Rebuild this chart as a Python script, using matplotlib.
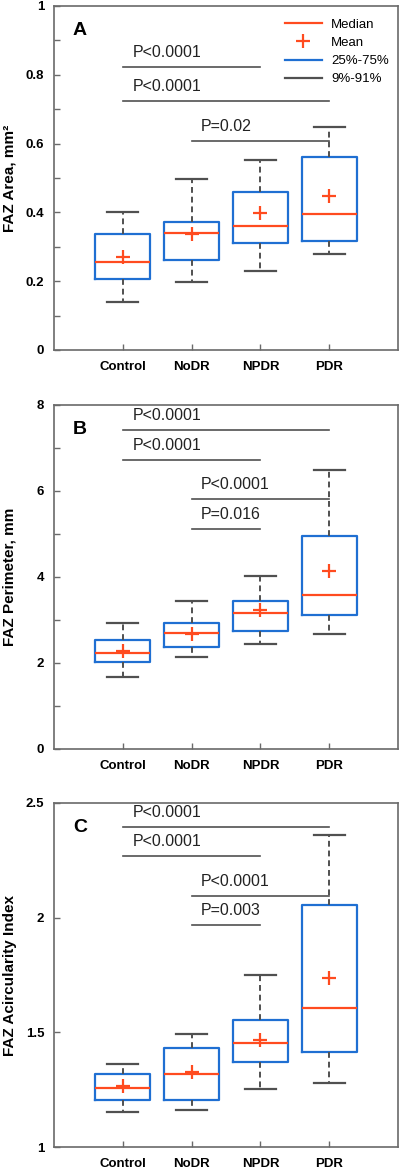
import matplotlib
matplotlib.use('Agg')
import matplotlib.pyplot as plt
from matplotlib.lines import Line2D
from matplotlib.ticker import MultipleLocator

groups = ['Control', 'NoDR', 'NPDR', 'PDR']

# FAZ area, mm2 : whisker low (9%), q1, median, q3, whisker high (91%), mean
area_lo = [0.139, 0.197, 0.230, 0.278]
area_q1 = [0.205, 0.262, 0.310, 0.318]
area_med = [0.255, 0.340, 0.360, 0.395]
area_q3 = [0.336, 0.373, 0.459, 0.562]
area_hi = [0.401, 0.497, 0.552, 0.649]
area_mean = [0.270, 0.336, 0.399, 0.448]

# FAZ perimeter, mm
per_lo = [1.67, 2.14, 2.43, 2.67]
per_q1 = [2.02, 2.36, 2.74, 3.11]
per_med = [2.23, 2.70, 3.17, 3.59]
per_q3 = [2.54, 2.93, 3.43, 4.96]
per_hi = [2.93, 3.43, 4.03, 6.48]
per_mean = [2.28, 2.68, 3.23, 4.15]

# FAZ acircularity index
aci_lo = [1.153, 1.161, 1.253, 1.279]
aci_q1 = [1.203, 1.203, 1.371, 1.414]
aci_med = [1.259, 1.317, 1.455, 1.608]
aci_q3 = [1.320, 1.430, 1.552, 2.055]
aci_hi = [1.363, 1.494, 1.749, 2.362]
aci_mean = [1.265, 1.328, 1.468, 1.735]

# significance bars: (group from, group to, level, label)
area_sig = [(1, 3, 0.824, 'P<0.0001'), (1, 4, 0.725, 'P<0.0001'), (2, 4, 0.607, 'P=0.02')]
per_sig = [(1, 4, 7.41, 'P<0.0001'), (1, 3, 6.71, 'P<0.0001'),
           (2, 4, 5.82, 'P<0.0001'), (2, 3, 5.12, 'P=0.016')]
aci_sig = [(1, 4, 2.395, 'P<0.0001'), (1, 3, 2.267, 'P<0.0001'),
           (2, 4, 2.096, 'P<0.0001'), (2, 3, 1.967, 'P=0.003')]

RED = '#ff4b1f'
BLUE = '#1f6fd2'
GRAY = '#505050'
SPINE = '#6a6a6a'

plt.rcParams['font.family'] = ['Liberation Sans', 'DejaVu Sans']


def make_stats(lo, q1, med, q3, hi, mean):
    stats = []
    for i in range(len(groups)):
        stats.append({'whislo': lo[i], 'q1': q1[i], 'med': med[i], 'q3': q3[i],
                      'whishi': hi[i], 'mean': mean[i], 'fliers': [], 'label': groups[i]})
    return stats


def draw_panel(ax, stats, sig, ylim, major, minor, ylabel, letter):
    ax.bxp(stats, positions=[1, 2, 3, 4], widths=0.8, showmeans=True,
           boxprops=dict(color=BLUE, linewidth=1.6),
           medianprops=dict(color=RED, linewidth=1.6),
           whiskerprops=dict(color=GRAY, linewidth=1.4, linestyle=(0, (3, 2))),
           capprops=dict(color=GRAY, linewidth=1.6),
           meanprops=dict(marker='+', markeredgecolor=RED, markersize=10, markeredgewidth=1.6),
           capwidths=0.45)
    ax.set_xlim(0, 5)
    ax.set_ylim(*ylim)
    ax.yaxis.set_major_locator(MultipleLocator(major))
    if minor:
        ax.yaxis.set_minor_locator(MultipleLocator(minor))
    ax.set_yticklabels(['%g' % round(v, 3) for v in ax.get_yticks()])
    ax.set_ylim(*ylim)
    ax.tick_params(axis='both', which='both', direction='in', colors=SPINE,
                   labelcolor='black', length=4, width=1)
    ax.tick_params(axis='y', pad=7, labelsize=9.5)
    ax.tick_params(axis='x', pad=8, labelsize=9.5)
    for lab in ax.get_xticklabels() + ax.get_yticklabels():
        lab.set_fontweight('bold')
    for sp in ax.spines.values():
        sp.set_color(SPINE)
        sp.set_linewidth(1.2)
    ax.set_ylabel(ylabel, fontsize=11, fontweight='bold', va='center')
    ax.yaxis.set_label_coords(-0.128, 0.5)
    ax.text(0.055, 0.93, letter, transform=ax.transAxes, fontsize=14,
            fontweight='bold', va='center', ha='left')
    rng = ylim[1] - ylim[0]
    for a, b, y, txt in sig:
        ax.plot([a, b], [y, y], color=GRAY, linewidth=1.2)
        ax.text(a + 0.14, y + 0.042 * rng, txt, fontsize=11.5, ha='left', va='center',
                color='#222222')


fig = plt.figure(figsize=(4.0, 11.69), dpi=100)
left, width, height = 0.135, 0.86, 0.2943
axA = fig.add_axes([left, 0.7006, width, height])
axB = fig.add_axes([left, 0.3593, width, height])
axC = fig.add_axes([left, 0.0188, width, height])

draw_panel(axA, make_stats(area_lo, area_q1, area_med, area_q3, area_hi, area_mean),
           area_sig, (0, 1), 0.2, 0.1, 'FAZ Area, mm²', 'A')
draw_panel(axB, make_stats(per_lo, per_q1, per_med, per_q3, per_hi, per_mean),
           per_sig, (0, 8), 2, 1, 'FAZ Perimeter, mm', 'B')
draw_panel(axC, make_stats(aci_lo, aci_q1, aci_med, aci_q3, aci_hi, aci_mean),
           aci_sig, (1, 2.5), 0.5, None, 'FAZ Acircularity Index', 'C')

handles = [Line2D([], [], color=RED, linewidth=1.6),
           Line2D([], [], color=RED, linestyle='none', marker='+', markersize=10, markeredgewidth=1.6),
           Line2D([], [], color=BLUE, linewidth=1.6),
           Line2D([], [], color=GRAY, linewidth=1.6)]
axA.legend(handles, ['Median', 'Mean', '25%-75%', '9%-91%'], loc='upper right',
           bbox_to_anchor=(1.0, 0.99), frameon=False, fontsize=9.5, handlelength=2.8,
           handletextpad=0.7, labelspacing=0.45, borderaxespad=0.3)

fig.savefig('out.png', dpi=100)
